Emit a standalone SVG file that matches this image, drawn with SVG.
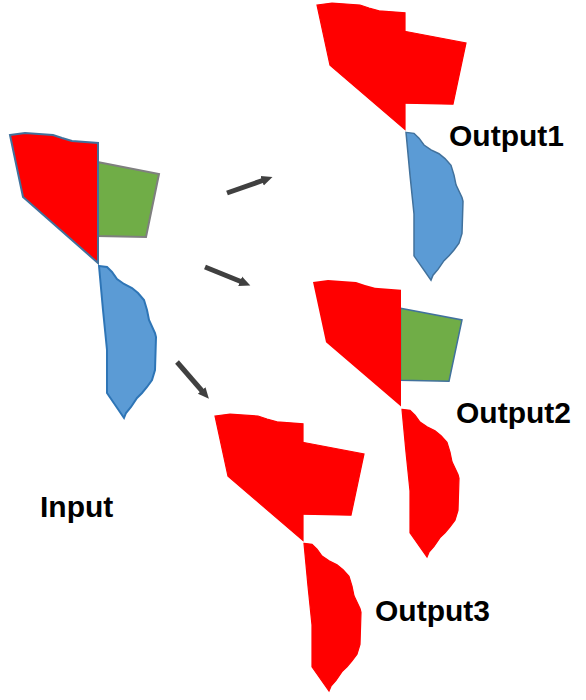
<svg xmlns="http://www.w3.org/2000/svg" xmlns:xlink="http://www.w3.org/1999/xlink" width="586" height="700" viewBox="0 0 586 700">
<style>
.lbl{font-family:"Liberation Sans",Arial,sans-serif;font-weight:bold;font-size:30px;fill:#000}
.arrow{stroke:#404040;stroke-width:5;fill:none}
.allred{fill:#FF0000;stroke:#FF0000;stroke-width:1.2}
</style>
<defs>
<path id="pRed" d="M10,135 L25,133 L53,135 L62,138 L72,141 L98,143 L98,263 L23,197 Z"/>
<path id="pGreen" d="M97.5,162 L159,174 L146,237 L97.5,236 Z"/>
<path id="pBlue" d="M99,266 L107,267 L112,272 L117,279 L124,284 L132,288 L138,293 L144,300 L147,310 L149,320 L155,333 L156,337 L155,370 L152,380 L147,387 L142,393 L137,398 L131,407 L126,413 L124,418 L107,393 L107,350 L103,310 Z"/>
<marker id="ah" markerUnits="userSpaceOnUse" markerWidth="12" markerHeight="12" refX="2" refY="6" orient="auto" viewBox="0 0 12 12">
<path d="M0,1 L11,6 L0,11 Z" fill="#404040"/>
</marker>
</defs>
<g id="input">
<use xlink:href="#pGreen" fill="#70AD47" stroke="#7F7F7F" stroke-width="2"/>
<use xlink:href="#pRed" fill="#FF0000" stroke="#41719C" stroke-width="2"/>
<use xlink:href="#pBlue" fill="#5B9BD5" stroke="#2E75B6" stroke-width="2"/>
<text class="lbl" x="40" y="517">Input</text>
</g>
<g id="output1">
<g transform="translate(307,-126.2) scale(1,0.972)">
<use xlink:href="#pRed" class="allred"/>
<use xlink:href="#pGreen" class="allred"/>
<use xlink:href="#pBlue" fill="#5B9BD5" stroke="#41719C" stroke-width="1.5"/>
</g>
<text class="lbl" x="449" y="146">Output1</text>
</g>
<g id="output2">
<g transform="translate(303,150.8) scale(1,0.972)">
<use xlink:href="#pGreen" fill="#70AD47" stroke="#41719C" stroke-width="1.5"/>
<use xlink:href="#pRed" fill="#FF0000"/>
<use xlink:href="#pBlue" class="allred"/>
</g>
<text class="lbl" x="456" y="423">Output2</text>
</g>
<g id="output3">
<g transform="translate(205,284.8) scale(1,0.972)">
<use xlink:href="#pRed" class="allred"/>
<use xlink:href="#pGreen" class="allred"/>
<use xlink:href="#pBlue" class="allred"/>
</g>
<text class="lbl" x="375" y="621">Output3</text>
</g>
<g id="connectors">
<line class="arrow" x1="227" y1="193" x2="264" y2="180" marker-end="url(#ah)"/>
<line class="arrow" x1="205" y1="267" x2="242" y2="282" marker-end="url(#ah)"/>
<line class="arrow" x1="177" y1="362" x2="203" y2="392" marker-end="url(#ah)"/>
</g>
</svg>
